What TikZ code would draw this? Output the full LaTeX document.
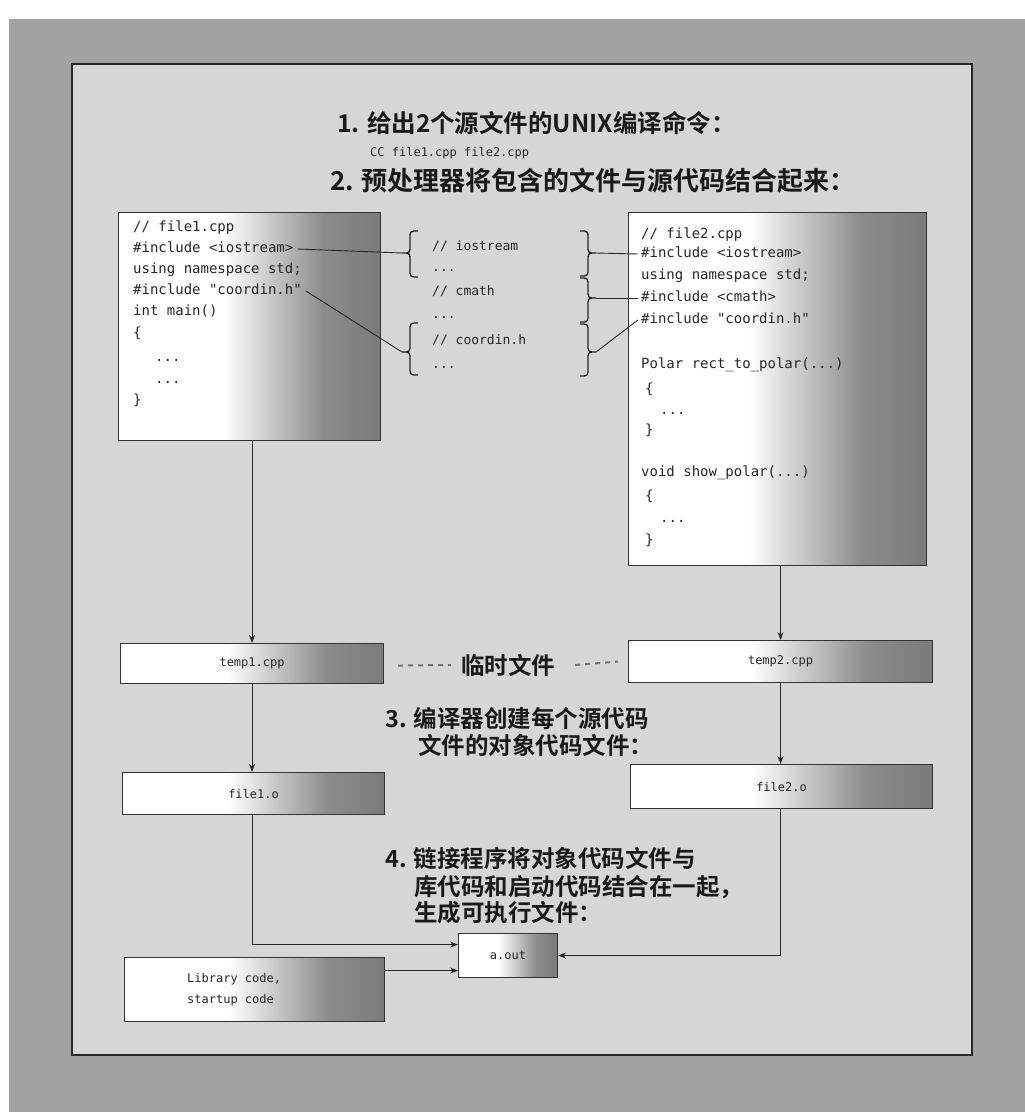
\documentclass[tikz,border=0pt]{standalone}
\usepackage{fontspec}
\newfontfamily\cjk{Noto Sans CJK SC}[BoldFont={Noto Sans CJK SC Bold}]
\newfontfamily\codefont{DejaVu Sans Mono}
\usetikzlibrary{arrows.meta,calc}
\pgfdeclarehorizontalshading{boxgrad}{100bp}{color(0bp)=(white); color(25bp)=(white); color(45bp)=(white); color(64bp)=(black!45); color(75bp)=(black!52); color(100bp)=(black!52)}
\definecolor{panelgray}{HTML}{D6D6D6}
\definecolor{outergray}{HTML}{A2A2A2}
\newcommand{\drawbrace}[6]{%
  \draw[brc] ({#1-(#5)*8},#2) .. controls (#1,#2) .. (#1,{#2+8}) -- (#1,{#3-8})
    .. controls (#1,#3) .. ({#1+(#5)*8},#3) coordinate (#6)
    .. controls (#1,#3) .. (#1,{#3+8}) -- (#1,{#4-8})
    .. controls (#1,#4) .. ({#1-(#5)*8},#4);}
\begin{document}
\begin{tikzpicture}[x=1pt,y=-1pt,
  gbox/.style={draw=black!80, line width=1.1pt, shading=boxgrad, inner sep=0pt, anchor=north west},
  code/.style={font=\codefont\fontsize{14}{16}\selectfont, text=black!85, anchor=west, inner sep=0pt, text height=10pt, text depth=3pt},
  midcode/.style={code, font=\codefont\fontsize{13}{15}\selectfont},
  small/.style={font=\codefont\fontsize{12}{14}\selectfont, text=black!85, inner sep=0pt},
  title/.style={font=\cjk\bfseries\fontsize{24.5}{28}\selectfont, text=black!90, anchor=west, inner sep=0pt},
  steptext/.style={font=\cjk\bfseries\fontsize{23.5}{26}\selectfont, text=black!90, anchor=west, inner sep=0pt},
  arr/.style={draw=black!85, line width=1pt, -{Stealth[length=8pt,width=6pt]}},
  link/.style={draw=black!85, line width=0.9pt},
  brc/.style={draw=black!85, line width=1.3pt},
  dashline/.style={draw=black!55, line width=2pt, dash pattern=on 5pt off 5pt}]
\useasboundingbox (0,0) rectangle (1025,1112);
\fill[white] (0,0) rectangle (1025,1112);
\fill[outergray] (9,19) rectangle (1025,1112);
\draw[fill=panelgray, draw=black!85, line width=1.2pt] (72,64) rectangle (972,1055);

% titles
\node[title] (s1) at (337,123) {1. 给出2个源文件的UNIX编译命令：};
\node[small, anchor=west] (cmd) at (370,153) {CC file1.cpp file2.cpp};
\node[title, font=\cjk\bfseries\fontsize{26}{30}\selectfont] (s2) at (330,181) {2. 预处理器将包含的文件与源代码结合起来：};

% boxes
\node[gbox, minimum width=262pt, minimum height=228pt] (f1) at (118,212) {};
\node[gbox, minimum width=298pt, minimum height=353pt] (f2) at (628,212) {};
\node[gbox, minimum width=263pt, minimum height=40pt] (t1) at (120,643) {};
\node[gbox, minimum width=304pt, minimum height=42pt] (t2) at (628,640) {};
\node[gbox, minimum width=262pt, minimum height=42pt] (o1) at (122,772) {};
\node[gbox, minimum width=302pt, minimum height=44pt] (o2) at (630,764) {};
\node[gbox, minimum width=260pt, minimum height=64pt] (lib) at (124,957) {};
\node[gbox, minimum width=99pt, minimum height=44pt] (ao) at (458,933) {};

\node[small] (t1t) at (t1.center) {temp1.cpp};
\node[small] (t2t) at (t2.center) {temp2.cpp};
\node[small] (o1t) at (o1.center) {file1.o};
\node[small] (o2t) at (o2.center) {file2.o};
\node[small] (aot) at (ao.center) {a.out};
\node[small, anchor=west, align=left, font=\codefont\fontsize{12}{21}\selectfont] (libt) at (187,990) {Library code,\\startup code};

% left code
\node[code] (l1) at (133,228) {// file1.cpp};
\node[code] (l2) at (133,249) {\#include <iostream>};
\node[code] (l3) at (133,270) {using namespace std;};
\node[code] (l4) at (133,291) {\#include "coordin.h"};
\node[code] (l5) at (133,312) {int main()};
\node[code] (l6) at (133,334) {\{};
\node[code] (l7) at (155,358) {...};
\node[code] (l8) at (155,380) {...};
\node[code] (l9) at (133,401) {\}};

% middle
\node[midcode] (m1) at (432,247) {// iostream};
\node[midcode] (m2) at (432,268) {...};
\node[midcode] (m3) at (432,292) {// cmath};
\node[midcode] (m4) at (432,315) {...};
\node[midcode] (m5) at (432,341) {// coordin.h};
\node[midcode] (m6) at (432,365) {...};

% right code
\node[code] (r1) at (641,235) {// file2.cpp};
\node[code] (r2) at (641,254) {\#include <iostream>};
\node[code] (r3) at (641,276) {using namespace std;};
\node[code] (r4) at (641,298) {\#include <cmath>};
\node[code] (r5) at (641,320) {\#include "coordin.h"};
\node[code] (r6) at (641,365) {Polar rect\_to\_polar(...)};
\node[code] (r7) at (645,390) {\{};
\node[code] (r8) at (660,411) {...};
\node[code] (r9) at (645,431) {\}};
\node[code] (r10) at (641,473) {void show\_polar(...)};
\node[code] (r11) at (645,497) {\{};
\node[code] (r12) at (660,519) {...};
\node[code] (r13) at (645,541) {\}};

% braces
\drawbrace{410}{231}{253}{277}{-1}{bl1}
\drawbrace{410}{323}{352}{375}{-1}{bl2}
\drawbrace{588}{231}{253}{276}{1}{br1}
\drawbrace{588}{278}{298}{322}{1}{br2}
\drawbrace{588}{324}{352}{376}{1}{br3}

% include links
\draw[link] ($(l2.east)+(4,0)$) -- (bl1);
\draw[link] ($(l4.east)+(4,0)$) -- (bl2);
\draw[link] (br1) -- ($(r2.west)+(-3,0)$);
\draw[link] (br2) -- ($(r4.west)+(-3,0)$);
\draw[link] (br3) -- ($(r5.west)+(-3,0)$);

% temp label
\node[steptext, anchor=center] (tmp) at (508,665) {临时文件};
\draw[dashline] ($(t1.east)+(14,2)$) -- ($(tmp.west)+(-10,0)$);
\draw[dashline] ($(tmp.east)+(20,0)$) -- ($(t2.west)+(-10,0)$);

% steps
\node[steptext] (s3a) at (385,718) {3. 编译器创建每个源代码};
\node[steptext] (s3b) at (418,745) {文件的对象代码文件：};
\node[steptext] (s4a) at (385,858) {4. 链接程序将对象代码文件与};
\node[steptext] (s4b) at (414,887) {库代码和启动代码结合在一起，};
\node[steptext] (s4c) at (414,913) {生成可执行文件：};

% arrows
\draw[arr] (t1.north |- f1.south) -- (t1.north);
\draw[arr] (t2.north |- f2.south) -- (t2.north);
\draw[arr] (t1.south) -- (o1.north -| t1.south);
\draw[arr] (t2.south) -- (o2.north -| t2.south);
\coordinate (in1) at ($(ao.west)+(0,-11)$);
\coordinate (in2) at ($(ao.west)+(0,15)$);
\draw[arr] (o1.south -| t1.south) |- (in1);
\draw[arr] (lib.east |- in2) -- (in2);
\draw[arr] (o2.south -| t2.south) |- (ao.east);
\end{tikzpicture}
\end{document}
